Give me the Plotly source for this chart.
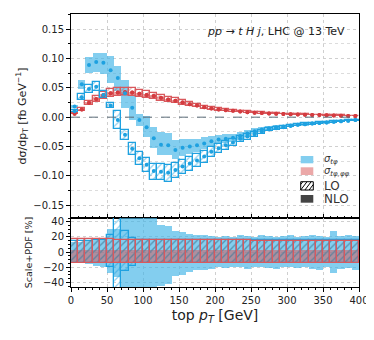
import plotly.graph_objects as go

# ---------------- data ----------------
pt_centers = [5, 15, 25, 35, 45, 55, 65, 75, 85, 95, 105, 115, 125, 135, 145, 155, 165, 175, 185, 195,
              205, 215, 225, 235, 245, 255, 265, 275, 285, 295, 305, 315, 325, 335, 345, 355, 365, 375, 385, 395]
bin_width = 10

# dsigma/dpT [fb/GeV]
blue_nlo = [0.018, 0.056, 0.089, 0.094, 0.093, 0.080, 0.067, 0.041, 0.016, -0.005,
            -0.017, -0.036, -0.047, -0.048, -0.056, -0.052, -0.050, -0.048, -0.045, -0.041,
            -0.038, -0.037, -0.035, -0.032, -0.028, -0.024, -0.021, -0.019, -0.017, -0.016,
            -0.014, -0.013, -0.012, -0.011, -0.010, -0.009, -0.008, -0.007, -0.006, -0.005]
blue_lo = [0.010, 0.034, 0.048, 0.052, 0.038, 0.020, -0.005, -0.030, -0.054, -0.070,
           -0.081, -0.092, -0.093, -0.095, -0.090, -0.084, -0.079, -0.074, -0.067, -0.059,
           -0.053, -0.048, -0.043, -0.037, -0.033, -0.029, -0.025, -0.021, -0.019, -0.017,
           -0.015, -0.013, -0.012, -0.011, -0.010, -0.009, -0.008, -0.007, -0.006, -0.005]
red_nlo = [0.0057, 0.013, 0.025, 0.031, 0.038, 0.041, 0.042, 0.042, 0.042, 0.040,
           0.038, 0.036, 0.033, 0.030, 0.028, 0.025, 0.022, 0.020, 0.017, 0.015,
           0.013, 0.012, 0.011, 0.0095, 0.0085, 0.0077, 0.0070, 0.0064, 0.0058, 0.0054,
           0.0050, 0.0046, 0.0042, 0.0039, 0.0036, 0.0033, 0.0030, 0.0026, 0.0022, 0.0018]
red_lo = [0.0058, 0.013, 0.024, 0.031, 0.037, 0.041, 0.042, 0.043, 0.042, 0.040,
          0.038, 0.036, 0.033, 0.030, 0.028, 0.025, 0.022, 0.020, 0.017, 0.015,
          0.013, 0.012, 0.011, 0.0095, 0.0085, 0.0077, 0.0070, 0.0064, 0.0058, 0.0054,
          0.0050, 0.0046, 0.0042, 0.0039, 0.0036, 0.0033, 0.0030, 0.0026, 0.0022, 0.0018]

# Scale+PDF uncertainties [%] (upper, lower)
blue_nlo_up = [14, 14, 16, 16, 17, 30, 31, 55, 125, 200, 95, 48, 36, 34, 28, 26, 24, 23, 22, 21,
               20, 21, 20, 22, 21, 20, 22, 21, 20, 21, 22, 20, 21, 22, 21, 20, 28, 21, 22, 21]
blue_nlo_dn = [-13, -13, -16, -18, -20, -27, -33, -60, -130, -220, -110, -55, -45, -42, -32, -30, -26, -24, -23, -22,
               -20, -21, -19, -20, -22, -20, -19, -21, -22, -20, -19, -21, -20, -22, -24, -20, -28, -22, -21, -23]
blue_lo_up = [15, 15, 15, 16, 16, 22, 300, 28, 18, 16, 16, 16, 16, 16, 16, 16, 16, 16, 16, 16,
              16, 16, 16, 16, 16, 16, 16, 16, 16, 16, 16, 16, 16, 16, 16, 16, 16, 16, 16, 16]
blue_lo_dn = [-14, -14, -14, -14, -15, -20, -300, -25, -18, -14, -14, -14, -14, -14, -14, -14, -14, -14, -14, -14,
              -14, -14, -14, -14, -14, -14, -14, -14, -14, -14, -14, -14, -14, -14, -14, -14, -14, -14, -14, -14]
red_nlo_up = [3] * 40
red_nlo_dn = [-14] * 40
red_lo_up = [17, 17, 17, 17, 17, 17, 16.5, 16.5, 16.5, 16.5, 16, 16, 16, 16, 16, 16, 16, 15.5, 15.5, 15.5,
             15.5, 15.5, 15.5, 15.5, 15.5, 15, 15, 15, 15, 15, 15, 15, 15, 15, 15, 15, 15, 15, 15, 15]
red_lo_dn = [-14] * 40

x_ticks = [0, 50, 100, 150, 200, 250, 300, 350, 400]
main_y_ticks = [-0.15, -0.10, -0.05, 0.0, 0.05, 0.10, 0.15]
main_y_labels = ["−0.15", "−0.10", "−0.05", "0.00", "0.05", "0.10", "0.15"]
ratio_y_ticks = [-40, -20, 0, 20, 40]

# ---------------- styles ----------------
BLUE = "#1ea1e0"
BLUE_BAND = "rgba(65,180,230,0.65)"
RED = "#d43c40"
RED_EDGE = "#d9595d"
RED_BAND = "rgba(215,80,80,0.5)"
FONT = "DejaVu Sans"


def band(vals, up, dn):
    lo, hi = [], []
    for v, u, d in zip(vals, up, dn):
        a, b = v * (1 + u / 100.0), v * (1 + d / 100.0)
        lo.append(min(a, b))
        hi.append(max(a, b))
    return lo, [h - l for h, l in zip(hi, lo)]


fig = go.Figure()


def add_band(xa, ya, base, height, color):
    fig.add_trace(go.Bar(x=pt_centers, base=base, y=height, width=bin_width,
                         marker=dict(color=color, line=dict(width=0)),
                         xaxis=xa, yaxis=ya, showlegend=False, hoverinfo="skip"))


def add_box(xa, ya, base, height, edge, hatch):
    fig.add_trace(go.Bar(x=pt_centers, base=base, y=height, width=bin_width,
                         marker=dict(color="rgba(0,0,0,0)",
                                     pattern=dict(shape="/", fgcolor=hatch, bgcolor="rgba(0,0,0,0)",
                                                  size=5, solidity=0.25),
                                     line=dict(color=edge, width=1.3)),
                         xaxis=xa, yaxis=ya, showlegend=False, hoverinfo="skip"))


# main panel
b, h = band(blue_nlo, blue_nlo_up, blue_nlo_dn)
add_band("x", "y", b, h, BLUE_BAND)
b, h = band(red_nlo, red_nlo_up, red_nlo_dn)
add_band("x", "y", b, h, RED_BAND)
b, h = band(red_lo, red_lo_up, red_lo_dn)
add_box("x", "y", b, h, RED_EDGE, "rgba(200,80,80,0.9)")
b, h = band(blue_lo, blue_lo_up, blue_lo_dn)
add_box("x", "y", b, h, BLUE, BLUE)
for vals, col in [(red_lo, RED), (red_nlo, RED), (blue_lo, BLUE), (blue_nlo, BLUE)]:
    fig.add_trace(go.Scatter(x=pt_centers, y=vals, mode="markers",
                             marker=dict(color=col, size=4, line=dict(width=0)),
                             xaxis="x", yaxis="y", showlegend=False, hoverinfo="skip"))

# ratio panel
add_band("x2", "y2", blue_nlo_dn, [u - d for u, d in zip(blue_nlo_up, blue_nlo_dn)], BLUE_BAND)
add_band("x2", "y2", red_nlo_dn, [u - d for u, d in zip(red_nlo_up, red_nlo_dn)], RED_BAND)
add_box("x2", "y2", blue_lo_dn, [u - d for u, d in zip(blue_lo_up, blue_lo_dn)], BLUE, BLUE)
add_box("x2", "y2", red_lo_dn, [u - d for u, d in zip(red_lo_up, red_lo_dn)], RED_EDGE,
        "rgba(110,90,90,0.8)")

grid = dict(showgrid=True, gridcolor="#cfcfcf", griddash="dot", gridwidth=1)
axis_common = dict(showline=True, linecolor="black", linewidth=1, mirror=True, automargin=False,
                   ticklen=4, tickcolor="black", zeroline=False,
                   tickfont=dict(family=FONT, size=10, color="#222"))

# page body has an 8px default margin: figure is 366x332 placed at (8,8)
split = 69 / 273.0
fig.update_layout(
    width=366, height=332,
    margin=dict(l=63, r=15, t=6, b=53, autoexpand=False),
    paper_bgcolor="white", plot_bgcolor="white",
    barmode="overlay", bargap=0,
    showlegend=False,
    font=dict(family=FONT, color="#222"),
    xaxis=dict(domain=[0, 1], anchor="y", range=[0, 400], tickvals=x_ticks, showticklabels=False,
               ticks="inside",
               minor=dict(dtick=10, ticks="inside", ticklen=2, tickcolor="black"),
               **axis_common, **grid),
    yaxis=dict(domain=[split, 1], anchor="x", range=[-0.172, 0.176],
               tickvals=main_y_ticks, ticktext=main_y_labels, ticks="outside",
               minor=dict(dtick=0.025, tick0=0, ticks="outside", ticklen=2, tickcolor="black",
                          showgrid=True, gridcolor="#dcdcdc", griddash="dot"),
               title=dict(text="dσ/dp<sub>T</sub> [fb GeV<sup>−1</sup>]",
                          font=dict(family=FONT, size=11, color="#222"), standoff=4),
               **axis_common, **grid),
    xaxis2=dict(domain=[0, 1], anchor="y2", range=[0, 400], tickvals=x_ticks, ticks="outside",
                minor=dict(dtick=10, ticks="outside", ticklen=2, tickcolor="black"),
                title=dict(text="top <i>p<sub>T</sub></i> [GeV]",
                           font=dict(family=FONT, size=14, color="#222"), standoff=5),
                **axis_common, **grid),
    yaxis2=dict(domain=[0, split], anchor="x2", range=[-46, 45], tickvals=ratio_y_ticks,
                ticks="outside",
                minor=dict(dtick=5, ticks="outside", ticklen=2, tickcolor="black"),
                title=dict(text="Scale+PDF [%]", font=dict(family=FONT, size=9.5, color="#222"),
                           standoff=8),
                **axis_common, **grid),
)

# zero line in main panel
fig.add_shape(type="line", xref="x domain", yref="y", x0=0, x1=1, y0=0, y1=0,
              line=dict(color="#5f707c", width=1, dash="dash"), layer="above")

# process label
fig.add_annotation(xref="paper", yref="paper", x=0.958, y=0.935, xanchor="right", yanchor="middle",
                   text="<i>pp</i> → <i>t H j</i>, LHC @ 13 TeV", showarrow=False,
                   font=dict(family=FONT, size=11, color="#222"))

# custom legend
lx0, lx1 = 0.7976, 0.8413
legend_rows = [
    (0.4531, 0.4799, "rgb(131,206,239)", None, "<i>σ</i><sub><i>tφ</i></sub>", 10),
    (0.4103, 0.4385, "rgb(235,168,168)", None, "<i>σ</i><sub><i>tφ,φφ</i></sub>", 10),
    (0.3553, 0.3857, "white", "black", "LO", 12),
    (0.3088, 0.3370, "#444444", None, "NLO", 12),
]
for y0, y1, fill, edge, label, fs in legend_rows:
    fig.add_shape(type="rect", xref="paper", yref="paper", x0=lx0, x1=lx1, y0=y0, y1=y1,
                  fillcolor=fill, line=dict(color=edge if edge else fill, width=1 if edge else 0),
                  layer="above")
    fig.add_annotation(xref="paper", yref="paper", x=lx1 + 0.03,
                       y=(y0 + y1) / 2, xanchor="left", yanchor="middle", text=label,
                       showarrow=False, font=dict(family=FONT, size=fs, color="#333"))
# hatch lines for LO legend entry
y0, y1 = 0.3553, 0.3857
w = lx1 - lx0
for k in range(4):
    xs = lx0 + (k - 1) * w / 3
    fig.add_shape(type="line", xref="paper", yref="paper",
                  x0=max(xs, lx0), y0=y0 + (max(xs, lx0) - xs) / (w / 2) * (y1 - y0),
                  x1=min(xs + w / 2, lx1), y1=y0 + (min(xs + w / 2, lx1) - xs) / (w / 2) * (y1 - y0),
                  line=dict(color="black", width=1), layer="above")

fig.write_html("out.html")
